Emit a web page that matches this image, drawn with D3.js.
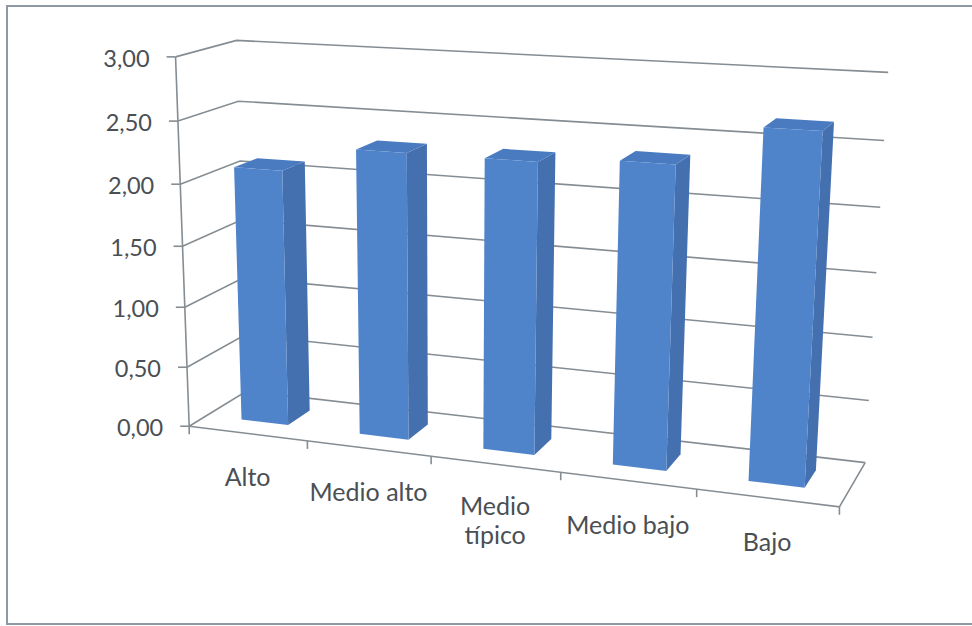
<!DOCTYPE html>
<html>
<head>
<meta charset="utf-8">
<script src="https://cdn.jsdelivr.net/npm/d3@7/dist/d3.min.js"></script>
<style>
  html, body { margin: 0; padding: 0; background: #ffffff; }
  svg { display: block; }
  text { font-family: Lato, "Open Sans", sans-serif; fill: #4a4f54; }
</style>
</head>
<body>
<svg id="chart" width="972" height="626"></svg>
<script>
// ---- data ----
const categories = ["Alto", "Medio alto", "Medio típico", "Medio bajo", "Bajo"];
const values = [2.10, 2.31, 2.31, 2.36, 2.67];
const valueTicks = [0, 0.5, 1, 1.5, 2, 2.5, 3];

// ---- 3D frame: world (x: categories 0..1, y: value 0..1, z: depth 0..1) to screen ----
const frameAnchors = [
  { w: [0, 0, 0], s: [191, 425] },
  { w: [0, 1 / 3, 0], s: [185, 307] },
  { w: [0, 2 / 3, 0], s: [180, 184] },
  { w: [0, 1, 0], s: [174, 57] },
  { w: [0, 1, 1], s: [238, 41] },
  { w: [0, 2 / 3, 1], s: [240, 160] },
  { w: [0, 0, 1], s: [245, 393] },
  { w: [1, 1, 1], s: [888, 73] },
  { w: [1, 0.5, 1], s: [877, 272] },
  { w: [1, 0, 1], s: [865, 461] },
  { w: [1, 0, 0], s: [839, 508] },
  { w: [0.2, 0, 0], s: [307, 440] },
  { w: [0.4, 0, 0], s: [432, 457] },
  { w: [0.6, 0, 0], s: [560, 472] },
  { w: [0.8, 0, 0], s: [697, 490] }
];

// Fit a 3x4 perspective camera (DLT, least squares) to the frame anchors.
function fitCamera(anchors) {
  const cx = 500, cy = 300, k = 400;
  const rows = [], rhs = [];
  anchors.forEach(({ w: [X, Y, Z], s: [su, sv] }) => {
    const u = (su - cx) / k, v = (sv - cy) / k;
    rows.push([X, Y, Z, 1, 0, 0, 0, 0, -u * X, -u * Y, -u * Z]); rhs.push(u);
    rows.push([0, 0, 0, 0, X, Y, Z, 1, -v * X, -v * Y, -v * Z]); rhs.push(v);
  });
  const n = 11;
  const A = Array.from({ length: n }, () => new Array(n + 1).fill(0));
  rows.forEach((r, idx) => {
    for (let i = 0; i < n; i++) {
      for (let j = 0; j < n; j++) A[i][j] += r[i] * r[j];
      A[i][n] += r[i] * rhs[idx];
    }
  });
  for (let c = 0; c < n; c++) {
    let p = c;
    for (let r = c + 1; r < n; r++) if (Math.abs(A[r][c]) > Math.abs(A[p][c])) p = r;
    [A[c], A[p]] = [A[p], A[c]];
    for (let r = 0; r < n; r++) {
      if (r === c) continue;
      const f = A[r][c] / A[c][c];
      for (let j = c; j <= n; j++) A[r][j] -= f * A[c][j];
    }
  }
  const m = A.map((row, i) => row[n] / row[i]);
  return (X, Y, Z) => {
    const wq = m[8] * X + m[9] * Y + m[10] * Z + 1;
    const u = (m[0] * X + m[1] * Y + m[2] * Z + m[3]) / wq;
    const v = (m[4] * X + m[5] * Y + m[6] * Z + m[7]) / wq;
    return [u * k + cx, v * k + cy];
  };
}
const project = fitCamera(frameAnchors);

// ---- scales ----
const x = d3.scaleBand().domain(categories).range([0, 1]).paddingInner(0.6).paddingOuter(0.3);
const xCat = d3.scaleBand().domain(categories).range([0, 1]).padding(0);
const y = d3.scaleLinear().domain([0, 3]).range([0, 1]);
const depth = { front: 0.3, back: 0.7 };

const fmt = d3.formatLocale({ decimal: ",", thousands: ".", grouping: [3], currency: ["", "€"] }).format(".2f");

const svg = d3.select("#chart");
const line = d3.line();

// outer border
svg.append("rect")
  .attr("x", 7).attr("y", 6).attr("width", 990).attr("height", 618)
  .attr("fill", "none").attr("stroke", "#8d9aa6").attr("stroke-width", 2);

const grid = svg.append("g")
  .attr("fill", "none").attr("stroke", "#858d93").attr("stroke-width", 1.6);

// walls: left (x=0) and back (z=1) gridlines
valueTicks.forEach(t => {
  const yy = y(t);
  grid.append("path").attr("d", line([project(0, yy, 0), project(0, yy, 1), project(1, yy, 1)]));
});
// floor front and right edges, vertical axis
grid.append("path").attr("d", line([project(0, 0, 0), project(1, 0, 0), project(1, 0, 1)]));
grid.append("path").attr("d", line([project(0, 0, 0), project(0, 1, 0)]));

// value axis ticks and labels
const yAxis = svg.append("g");
valueTicks.forEach(t => {
  const [px, py] = project(0, y(t), 0);
  yAxis.append("line")
    .attr("x1", px - 9).attr("y1", py).attr("x2", px).attr("y2", py)
    .attr("stroke", "#858d93").attr("stroke-width", 1.6);
  yAxis.append("text")
    .attr("x", px - 26).attr("y", py + 2).attr("dy", "0.35em")
    .attr("text-anchor", "end").attr("font-size", 23.5)
    .text(fmt(t));
});

// category ticks along the front floor edge
const xAxis = svg.append("g");
const bounds = categories.map(c => xCat(c)).concat([1]);
bounds.forEach(b => {
  const [px, py] = project(b, 0, 0);
  xAxis.append("line")
    .attr("x1", px).attr("y1", py).attr("x2", px).attr("y2", py + 8)
    .attr("stroke", "#858d93").attr("stroke-width", 1.6);
});
categories.forEach(c => {
  const [px, py] = project(xCat(c) + xCat.bandwidth() / 2, 0, 0);
  const lines = c.length > 10 ? c.split(" ") : [c];
  const baseline = lines.length > 1 ? py + 51 : py + 53;
  const txt = xAxis.append("text")
    .attr("text-anchor", "middle").attr("font-size", 25);
  lines.forEach((l, i) => {
    txt.append("tspan").attr("x", px).attr("y", baseline + i * 29).text(l);
  });
});

// bars: front, right side and top faces
const bars = svg.append("g");
categories.forEach((c, i) => {
  const x0 = x(c), x1 = x0 + x.bandwidth();
  const z0 = depth.front, z1 = depth.back;
  const h = y(values[i]);
  const g = bars.append("g");
  g.append("path")
    .attr("d", line([project(x1, 0, z0), project(x1, 0, z1), project(x1, h, z1), project(x1, h, z0)]) + "Z")
    .attr("fill", "#4470b0");
  g.append("path")
    .attr("d", line([project(x0, h, z0), project(x1, h, z0), project(x1, h, z1), project(x0, h, z1)]) + "Z")
    .attr("fill", "#4a7bc0");
  g.append("path")
    .attr("d", line([project(x0, 0, z0), project(x1, 0, z0), project(x1, h, z0), project(x0, h, z0)]) + "Z")
    .attr("fill", "#5084ca");
});
</script>
</body>
</html>
